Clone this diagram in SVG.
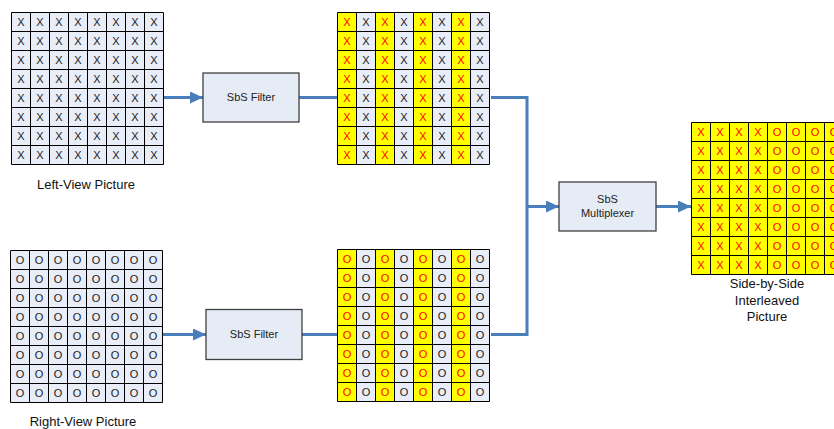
<svg xmlns="http://www.w3.org/2000/svg" xmlns:xlink="http://www.w3.org/1999/xlink" width="834" height="429" viewBox="0 0 834 429">
<style>
.bg{fill:#E8EDF7}
.ye{fill:#FFFF00}
.gl{fill:none;stroke:#000;stroke-width:1}
.c{font-family:"Liberation Sans",Arial,sans-serif;font-size:11px;text-anchor:middle;fill:#222}
.r{fill:#FF0000}
.box{fill:#E6ECF6;stroke:#404040;stroke-width:1.3}
.bt{font-family:"Liberation Sans",Arial,sans-serif;font-size:11px;text-anchor:middle;fill:#222}
.lb{font-family:"Liberation Sans",Arial,sans-serif;font-size:13px;text-anchor:middle;fill:#111}
.cn{fill:none;stroke:#4A7EBB;stroke-width:3}
</style>
<defs>
<path id="lines" class="gl" d="M0 0H152M0 19H152M0 38H152M0 57H152M0 76H152M0 95H152M0 114H152M0 133H152M0 152H152M0 0V152M19 0V152M38 0V152M57 0V152M76 0V152M95 0V152M114 0V152M133 0V152M152 0V152"/>
<g id="ycols"><rect class="ye" x="0" y="0" width="19" height="152"/><rect class="ye" x="38" y="0" width="19" height="152"/><rect class="ye" x="76" y="0" width="19" height="152"/><rect class="ye" x="114" y="0" width="19" height="152"/></g>
<marker id="ah" markerUnits="userSpaceOnUse" markerWidth="14" markerHeight="12" refX="13" refY="6" orient="auto"><path d="M0 0L13 6L0 12z" fill="#4A7EBB"/></marker>
</defs>

<g id="connectors">
<path class="cn" d="M164 97.5H203" marker-end="url(#ah)"/>
<path class="cn" d="M299 97.5H337"/>
<path class="cn" d="M491 97.5H527V334.5H491"/>
<path class="cn" d="M527 206.5H559" marker-end="url(#ah)"/>
<path class="cn" d="M656 206.5H691" marker-end="url(#ah)"/>
<path class="cn" d="M162 334.5H206" marker-end="url(#ah)"/>
<path class="cn" d="M302 334.5H337"/>
</g>

<g id="left-view" transform="translate(11.5,12.5)">
<rect class="bg" x="0" y="0" width="152" height="152"/>
<use xlink:href="#lines"/>
<text class="c" x="9.5 28.5 47.5 66.5 85.5 104.5 123.5 142.5" y="13.5">XXXXXXXX</text>
<text class="c" x="9.5 28.5 47.5 66.5 85.5 104.5 123.5 142.5" y="32.5">XXXXXXXX</text>
<text class="c" x="9.5 28.5 47.5 66.5 85.5 104.5 123.5 142.5" y="51.5">XXXXXXXX</text>
<text class="c" x="9.5 28.5 47.5 66.5 85.5 104.5 123.5 142.5" y="70.5">XXXXXXXX</text>
<text class="c" x="9.5 28.5 47.5 66.5 85.5 104.5 123.5 142.5" y="89.5">XXXXXXXX</text>
<text class="c" x="9.5 28.5 47.5 66.5 85.5 104.5 123.5 142.5" y="108.5">XXXXXXXX</text>
<text class="c" x="9.5 28.5 47.5 66.5 85.5 104.5 123.5 142.5" y="127.5">XXXXXXXX</text>
<text class="c" x="9.5 28.5 47.5 66.5 85.5 104.5 123.5 142.5" y="146.5">XXXXXXXX</text>
</g>
<g id="left-label"><text class="lb" x="86" y="189">Left-View Picture</text></g>

<g id="right-view" transform="translate(10.5,250.5)">
<rect class="bg" x="0" y="0" width="152" height="152"/>
<use xlink:href="#lines"/>
<text class="c" x="9.5 28.5 47.5 66.5 85.5 104.5 123.5 142.5" y="13.5">OOOOOOOO</text>
<text class="c" x="9.5 28.5 47.5 66.5 85.5 104.5 123.5 142.5" y="32.5">OOOOOOOO</text>
<text class="c" x="9.5 28.5 47.5 66.5 85.5 104.5 123.5 142.5" y="51.5">OOOOOOOO</text>
<text class="c" x="9.5 28.5 47.5 66.5 85.5 104.5 123.5 142.5" y="70.5">OOOOOOOO</text>
<text class="c" x="9.5 28.5 47.5 66.5 85.5 104.5 123.5 142.5" y="89.5">OOOOOOOO</text>
<text class="c" x="9.5 28.5 47.5 66.5 85.5 104.5 123.5 142.5" y="108.5">OOOOOOOO</text>
<text class="c" x="9.5 28.5 47.5 66.5 85.5 104.5 123.5 142.5" y="127.5">OOOOOOOO</text>
<text class="c" x="9.5 28.5 47.5 66.5 85.5 104.5 123.5 142.5" y="146.5">OOOOOOOO</text>
</g>
<g id="right-label"><text class="lb" x="83" y="426">Right-View Picture</text></g>

<g id="filter-top"><rect class="box" x="203" y="73" width="96" height="49"/><text class="bt" x="251" y="101">SbS Filter</text></g>
<g id="filter-bottom"><rect class="box" x="206" y="309.5" width="96" height="50"/><text class="bt" x="254" y="338">SbS Filter</text></g>

<g id="filtered-left" transform="translate(337.5,12.5)">
<rect class="bg" x="0" y="0" width="152" height="152"/>
<use xlink:href="#ycols"/>
<use xlink:href="#lines"/>
<text class="c" x="9.5 28.5 47.5 66.5 85.5 104.5 123.5 142.5" y="13.5"><tspan class="r">X</tspan>X<tspan class="r">X</tspan>X<tspan class="r">X</tspan>X<tspan class="r">X</tspan>X</text>
<text class="c" x="9.5 28.5 47.5 66.5 85.5 104.5 123.5 142.5" y="32.5"><tspan class="r">X</tspan>X<tspan class="r">X</tspan>X<tspan class="r">X</tspan>X<tspan class="r">X</tspan>X</text>
<text class="c" x="9.5 28.5 47.5 66.5 85.5 104.5 123.5 142.5" y="51.5"><tspan class="r">X</tspan>X<tspan class="r">X</tspan>X<tspan class="r">X</tspan>X<tspan class="r">X</tspan>X</text>
<text class="c" x="9.5 28.5 47.5 66.5 85.5 104.5 123.5 142.5" y="70.5"><tspan class="r">X</tspan>X<tspan class="r">X</tspan>X<tspan class="r">X</tspan>X<tspan class="r">X</tspan>X</text>
<text class="c" x="9.5 28.5 47.5 66.5 85.5 104.5 123.5 142.5" y="89.5"><tspan class="r">X</tspan>X<tspan class="r">X</tspan>X<tspan class="r">X</tspan>X<tspan class="r">X</tspan>X</text>
<text class="c" x="9.5 28.5 47.5 66.5 85.5 104.5 123.5 142.5" y="108.5"><tspan class="r">X</tspan>X<tspan class="r">X</tspan>X<tspan class="r">X</tspan>X<tspan class="r">X</tspan>X</text>
<text class="c" x="9.5 28.5 47.5 66.5 85.5 104.5 123.5 142.5" y="127.5"><tspan class="r">X</tspan>X<tspan class="r">X</tspan>X<tspan class="r">X</tspan>X<tspan class="r">X</tspan>X</text>
<text class="c" x="9.5 28.5 47.5 66.5 85.5 104.5 123.5 142.5" y="146.5"><tspan class="r">X</tspan>X<tspan class="r">X</tspan>X<tspan class="r">X</tspan>X<tspan class="r">X</tspan>X</text>
</g>

<g id="filtered-right" transform="translate(337.5,249.5)">
<rect class="bg" x="0" y="0" width="152" height="152"/>
<use xlink:href="#ycols"/>
<use xlink:href="#lines"/>
<text class="c" x="9.5 28.5 47.5 66.5 85.5 104.5 123.5 142.5" y="13.5"><tspan class="r">O</tspan>O<tspan class="r">O</tspan>O<tspan class="r">O</tspan>O<tspan class="r">O</tspan>O</text>
<text class="c" x="9.5 28.5 47.5 66.5 85.5 104.5 123.5 142.5" y="32.5"><tspan class="r">O</tspan>O<tspan class="r">O</tspan>O<tspan class="r">O</tspan>O<tspan class="r">O</tspan>O</text>
<text class="c" x="9.5 28.5 47.5 66.5 85.5 104.5 123.5 142.5" y="51.5"><tspan class="r">O</tspan>O<tspan class="r">O</tspan>O<tspan class="r">O</tspan>O<tspan class="r">O</tspan>O</text>
<text class="c" x="9.5 28.5 47.5 66.5 85.5 104.5 123.5 142.5" y="70.5"><tspan class="r">O</tspan>O<tspan class="r">O</tspan>O<tspan class="r">O</tspan>O<tspan class="r">O</tspan>O</text>
<text class="c" x="9.5 28.5 47.5 66.5 85.5 104.5 123.5 142.5" y="89.5"><tspan class="r">O</tspan>O<tspan class="r">O</tspan>O<tspan class="r">O</tspan>O<tspan class="r">O</tspan>O</text>
<text class="c" x="9.5 28.5 47.5 66.5 85.5 104.5 123.5 142.5" y="108.5"><tspan class="r">O</tspan>O<tspan class="r">O</tspan>O<tspan class="r">O</tspan>O<tspan class="r">O</tspan>O</text>
<text class="c" x="9.5 28.5 47.5 66.5 85.5 104.5 123.5 142.5" y="127.5"><tspan class="r">O</tspan>O<tspan class="r">O</tspan>O<tspan class="r">O</tspan>O<tspan class="r">O</tspan>O</text>
<text class="c" x="9.5 28.5 47.5 66.5 85.5 104.5 123.5 142.5" y="146.5"><tspan class="r">O</tspan>O<tspan class="r">O</tspan>O<tspan class="r">O</tspan>O<tspan class="r">O</tspan>O</text>
</g>

<g id="multiplexer"><rect class="box" x="559" y="182" width="97" height="49"/><text class="bt" x="607.5" y="203">SbS</text><text class="bt" x="607.5" y="217">Multiplexer</text></g>

<g id="sbs-picture" transform="translate(691.5,122.5)">
<rect class="ye" x="0" y="0" width="152" height="152"/>
<use xlink:href="#lines"/>
<text class="c r" x="9.5 28.5 47.5 66.5 85.5 104.5 123.5 142.5" y="13.5">XXXXOOOO</text>
<text class="c r" x="9.5 28.5 47.5 66.5 85.5 104.5 123.5 142.5" y="32.5">XXXXOOOO</text>
<text class="c r" x="9.5 28.5 47.5 66.5 85.5 104.5 123.5 142.5" y="51.5">XXXXOOOO</text>
<text class="c r" x="9.5 28.5 47.5 66.5 85.5 104.5 123.5 142.5" y="70.5">XXXXOOOO</text>
<text class="c r" x="9.5 28.5 47.5 66.5 85.5 104.5 123.5 142.5" y="89.5">XXXXOOOO</text>
<text class="c r" x="9.5 28.5 47.5 66.5 85.5 104.5 123.5 142.5" y="108.5">XXXXOOOO</text>
<text class="c r" x="9.5 28.5 47.5 66.5 85.5 104.5 123.5 142.5" y="127.5">XXXXOOOO</text>
<text class="c r" x="9.5 28.5 47.5 66.5 85.5 104.5 123.5 142.5" y="146.5">XXXXOOOO</text>
</g>
<g id="sbs-label"><text class="lb" x="767" y="288">Side-by-Side</text><text class="lb" x="767" y="305">Interleaved</text><text class="lb" x="767" y="321">Picture</text></g>
</svg>
